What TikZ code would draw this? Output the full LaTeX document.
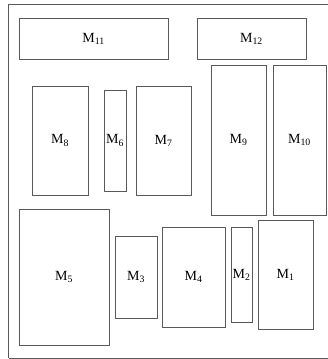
\documentclass[tikz,border=0pt]{standalone}
\usepackage{fontspec}
\setmainfont{Liberation Serif}
\begin{document}
\begin{tikzpicture}[x=1pt,y=-1pt,
  line width=0.8pt,
  box/.style={draw=black!65, rectangle, inner sep=0pt,
    font=\fontsize{14}{16}\selectfont}]
\useasboundingbox (0,0) rectangle (328,359);
% outer frame (its right side runs past the page)
\draw[black!65] (8.5,358) -- (8.5,4.3) -- (340,4.3);
\draw[black!65] (8.5,358) -- (340,358);
% top row
\node[box, minimum width=149pt, minimum height=41pt] (m11) at (93.5,38.5) {M\textsubscript{11}};
\node[box, minimum width=109pt, minimum height=41pt] (m12) at (251.5,38.5) {M\textsubscript{12}};
% middle row
\node[box, minimum width=56pt, minimum height=109pt] (m8) at (60,140.5) {M\textsubscript{8}};
\node[box, minimum width=22pt, minimum height=101pt] (m6) at (115,140.5) {M\textsubscript{6}};
\node[box, minimum width=55pt, minimum height=109pt] (m7) at (163.5,140.5) {M\textsubscript{7}};
\node[box, minimum width=55pt, minimum height=150pt] (m9) at (238.5,140) {M\textsubscript{9}};
\node[box, minimum width=53pt, minimum height=150pt] (m10) at (299.5,140) {M\textsubscript{10}};
% bottom row
\node[box, minimum width=90pt, minimum height=136pt] (m5) at (64,277) {M\textsubscript{5}};
\node[box, minimum width=42pt, minimum height=82pt] (m3) at (136,277) {M\textsubscript{3}};
\node[box, minimum width=63pt, minimum height=100pt] (m4) at (193.5,277) {M\textsubscript{4}};
\node[box, minimum width=21pt, minimum height=95pt] (m2) at (241.5,274.5) {M\textsubscript{2}};
\node[box, minimum width=55pt, minimum height=109pt] (m1) at (285.5,274.5) {M\textsubscript{1}};
\end{tikzpicture}
\end{document}
